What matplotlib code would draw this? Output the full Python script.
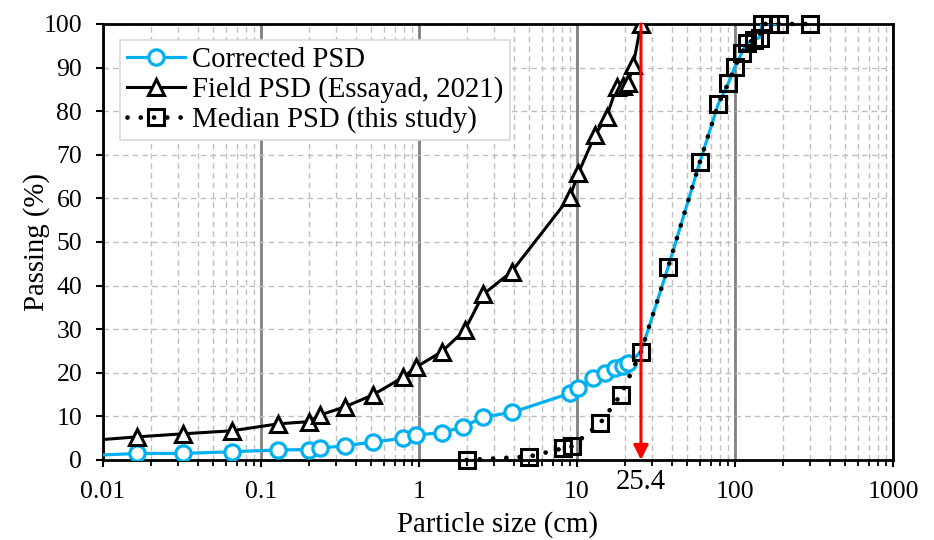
import matplotlib
matplotlib.use('Agg')
import matplotlib.pyplot as plt
import matplotlib.ticker as mticker

plt.rcParams['font.family'] = ['Liberation Serif', 'DejaVu Serif']
plt.rcParams['font.size'] = 18.5

# Corrected PSD (markers on the lower branch, then follows the median curve)
corr_x = [0.01, 0.0163, 0.0319, 0.0653, 0.129, 0.202, 0.236, 0.340, 0.509, 0.796, 0.957,
          1.39, 1.91, 2.55, 3.86, 9.03, 10.2, 12.7, 15.0, 17.4, 19.5, 21.1]
corr_y = [1.15, 1.5, 1.5, 1.9, 2.3, 2.4, 2.7, 3.3, 4.1, 5.0, 5.7,
          6.3, 7.6, 9.9, 10.9, 15.3, 16.4, 18.7, 19.9, 21.0, 21.6, 22.2]

# Field PSD (Essayad, 2021)
field_x = [0.01, 0.0163, 0.0319, 0.0653, 0.129, 0.202, 0.236, 0.340, 0.509, 0.796, 0.957,
           1.39, 1.95, 2.55, 3.86, 9.03, 10.2, 13.0, 15.4, 17.8, 19.6, 21.1, 22.7, 25.4]
field_y = [4.7, 5.3, 6.0, 6.7, 8.3, 8.8, 10.3, 12.2, 14.9, 19.0, 21.3,
           24.8, 29.8, 38.0, 43.2, 60.4, 65.8, 74.5, 78.7, 85.5, 85.8, 86.4, 90.6, 100]

# Median PSD (this study)
med_x = [2.0, 5.0, 8.2, 9.25, 14.0, 18.9, 25.4, 37.8, 60.0, 78.4, 90.7, 100, 110,
         119, 131, 143, 148, 167, 191, 298]
med_y = [0.0, 0.8, 2.7, 3.1, 8.4, 14.9, 24.8, 44.3, 68.4, 81.7, 86.4, 90.2, 93.3,
         95.6, 96.3, 96.9, 100, 100, 100, 100]

cutoff = 25.4
blue = '#00B0F0'
big = 20.7

fig = plt.figure(figsize=(9.34, 5.4), dpi=100)
ax = fig.add_axes([103/934, 80/540, 790/934, 436/540])

# upper part of corrected curve = median points from the cutoff on
up_x = [x for x in med_x if cutoff <= x <= 191]
up_y = [y for x, y in zip(med_x, med_y) if cutoff <= x <= 191]

ax.plot(corr_x + up_x, corr_y + up_y, color=blue, lw=2.3, zorder=3)
ax.plot(corr_x[1:], corr_y[1:], ls='none', marker='o', ms=11, mfc='white',
        mec=blue, mew=2.3, zorder=4)
ax.plot([], [], color=blue, lw=2.3, marker='o', ms=11, mfc='white', mec=blue,
        mew=2.3, label='Corrected PSD')

ax.plot(field_x, field_y, color='black', lw=2.2, zorder=5)
ax.plot(field_x[1:], field_y[1:], ls='none', marker='^', ms=11.5, mfc='white',
        mec='black', mew=2.2, zorder=6)
ax.plot([], [], color='black', lw=2.2, marker='^', ms=11.5, mfc='white', mec='black',
        mew=2.2, label='Field PSD (Essayad, 2021)')

ax.plot(med_x, med_y, color='black', lw=3.4, ls=(0, (0.01, 2.8)),
        dash_capstyle='round', marker='s', ms=11.5, mfc='none', mec='black',
        mew=2.2, zorder=7, clip_on=False, label='Median PSD (this study)')

ax.annotate('', xy=(cutoff, 0), xytext=(cutoff, 100),
            arrowprops=dict(arrowstyle='-|>', color='red', lw=2.2,
                            mutation_scale=22, shrinkA=0, shrinkB=0), zorder=8)
ax.text(cutoff, -5, '25.4', ha='center', va='center', fontsize=big)

ax.set_xscale('log')
ax.set_xlim(0.01, 1000)
ax.set_ylim(0, 100)
ax.set_yticks(range(0, 101, 10))
ax.xaxis.set_major_formatter(mticker.FuncFormatter(lambda v, p: '%g' % v))
ax.xaxis.set_minor_formatter(mticker.NullFormatter())

ax.grid(True, which='major', axis='x', color='#808080', lw=2, ls='-')
ax.grid(True, which='minor', axis='x', color='#BFBFBF', lw=1, ls=(0, (4, 3)))
ax.grid(True, which='major', axis='y', color='#BFBFBF', lw=1, ls=(0, (4, 3)))
ax.set_axisbelow(True)

ax.tick_params(axis='both', which='major', direction='out', length=5, width=1.5,
               pad=10, color='black')
ax.tick_params(axis='x', which='minor', direction='out', length=4, width=1.3)
for s in ax.spines.values():
    s.set_linewidth(2)
    s.set_color('black')

ax.set_xlabel('Particle size (cm)', fontsize=big, labelpad=6)
ax.set_ylabel('Passing (%)', fontsize=big, labelpad=-5)

leg = ax.legend(loc='upper left', bbox_to_anchor=(0.0215, 0.963), borderaxespad=0,
                fancybox=False, framealpha=1, edgecolor='#D9D9D9', fontsize=big,
                handlelength=2.0, handletextpad=0.25, labelspacing=0.1,
                borderpad=0.25)
leg.get_frame().set_linewidth(1.2)
leg.set_zorder(10)

fig.savefig('out.png', dpi=100)
